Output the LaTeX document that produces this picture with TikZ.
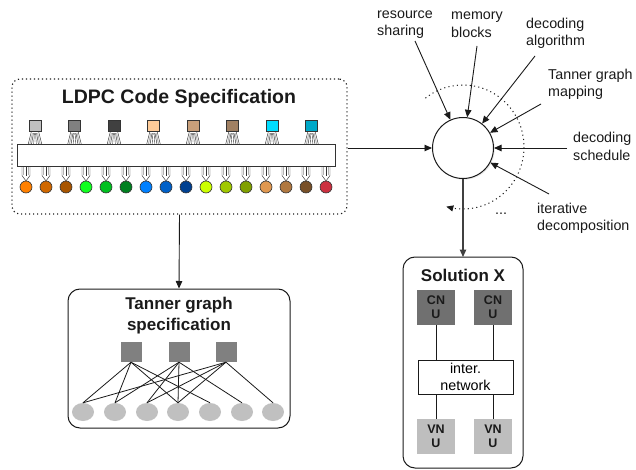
\documentclass[tikz,border=0pt]{standalone}
\usepackage{fontspec}
\setmainfont{Liberation Sans}
\usetikzlibrary{arrows.meta,shadows,calc,shapes.geometric}

\definecolor{ink}{HTML}{1A1A1A}
\definecolor{pinline}{HTML}{333333}
\definecolor{checkgray}{HTML}{808080}
\definecolor{varlight}{HTML}{C0C0C0}
\definecolor{cnugray}{HTML}{707070}
\definecolor{vnugray}{HTML}{BEBEBE}

% check-node colours (top row)
\definecolor{c1}{HTML}{C0C0C0}
\definecolor{c2}{HTML}{808080}
\definecolor{c3}{HTML}{404040}
\definecolor{c4}{HTML}{FFCC99}
\definecolor{c5}{HTML}{C89F7A}
\definecolor{c6}{HTML}{A08062}
\definecolor{c7}{HTML}{00DCFF}
\definecolor{c8}{HTML}{00A8C8}

% variable-node colours (bottom row)
\definecolor{v1}{HTML}{FF8000}
\definecolor{v2}{HTML}{D06800}
\definecolor{v3}{HTML}{A85500}
\definecolor{v4}{HTML}{10FF20}
\definecolor{v5}{HTML}{00C020}
\definecolor{v6}{HTML}{008020}
\definecolor{v7}{HTML}{0080FF}
\definecolor{v8}{HTML}{0060C8}
\definecolor{v9}{HTML}{004090}
\definecolor{v10}{HTML}{CCFF00}
\definecolor{v11}{HTML}{A0C800}
\definecolor{v12}{HTML}{80A000}
\definecolor{v13}{HTML}{E09850}
\definecolor{v14}{HTML}{B07840}
\definecolor{v15}{HTML}{785028}
\definecolor{v16}{HTML}{CC3040}

\tikzset{
  arr/.style={draw=ink, line width=0.9pt, -{Triangle[length=7.5pt,width=6.5pt]}},
  lbl/.style={font=\fontsize{14.3}{17.5}\selectfont, align=left, anchor=west, inner sep=0pt, text=ink},
  boxtitle/.style={font=\fontsize{17}{21}\selectfont\bfseries, align=center, inner sep=0pt, text=ink},
  unitlbl/.style={font=\fontsize{12.5}{14}\selectfont\bfseries, align=center, inner sep=0pt, text=ink},
  checksq/.style={draw=pinline, line width=0.6pt, minimum width=12pt, minimum height=11pt, inner sep=0pt},
  varnode/.style={circle, draw=pinline, line width=0.6pt, minimum size=12pt, inner sep=0pt},
  toppin/.pic={
    \filldraw[fill=white, draw=pinline, line width=0.45pt]
      (-3.5,0) -- (3.5,0) -- (7,14) -- (3.6,14) -- (1.6,2.5) -- (-1.6,2.5) -- (-3.6,14) -- (-7,14) -- cycle;
    \draw[gray!60, line width=0.9pt] (-2.6,2) -- (-5.3,14) (2.6,2) -- (5.3,14);
    \draw[pinline, line width=0.4pt] (-0.6,2.5) -- (-1.4,14) (0.6,2.5) -- (1.4,14);
  },
  botpin/.pic={
    \filldraw[fill=white, draw=pinline, line width=0.45pt]
      (-4,0) -- (-4,8.5) -- (0,14) -- (4,8.5) -- (4,0);
    \draw[gray!60, line width=0.9pt] (-2.3,0) -- (-2.3,8.5) (2.3,0) -- (2.3,8.5);
    \draw[pinline, line width=0.4pt] (0,0) -- (0,9);
  }
}

\begin{document}
\begin{tikzpicture}[x=1pt,y=-1pt]
\useasboundingbox (0,0) rectangle (636,470);

% ---------------- LDPC code specification ----------------
\node[draw=ink, line width=1.1pt, dash pattern=on 1.2pt off 2.8pt, rounded corners=8pt,
      minimum width=335pt, minimum height=135pt] (ldpc) at (179.5,146.5) {};
\node[font=\fontsize{19.5}{23}\selectfont\bfseries, text=ink, inner sep=0pt] (ldpctitle) at (179,98) {LDPC Code Specification};

% pins first, so the bar and the nodes sit on top of them
\foreach \i in {0,...,7} {
  \pic at ({35+39.5*\i},131) {toppin};
}
\foreach \i in {0,...,15} {
  \pic at ({26+20*\i},167) {botpin};
}

\node[draw=pinline, fill=white, line width=1pt, minimum width=318pt, minimum height=22pt, inner sep=0pt] (bar) at (176,156) {};

\foreach \i in {1,...,8} {
  \node[checksq, fill=c\i] (cn\i) at ({35+39.5*(\i-1)},125.5) {};
}
\foreach \i in {1,...,16} {
  \node[varnode, fill=v\i] (vn\i) at ({26+20*(\i-1)},187) {};
}

% ---------------- design-space hub ----------------
\node[circle, draw=ink, line width=1pt, fill=white, minimum size=61pt, inner sep=0pt,
      drop shadow={opacity=0.18, shadow xshift=1.2pt, shadow yshift=-1.2pt}] (hub) at (463,148) {};

\draw[arr] (ldpc.east |- hub.west) -- (hub.west);

% design choices feeding the hub
\node[lbl] (lres)  at (377,24.5)  {resource\\sharing};
\node[lbl] (lmem)  at (451,24.5)  {memory\\blocks};
\node[lbl] (lalg)  at (526,33.5)  {decoding\\algorithm};
\node[lbl] (lmap)  at (548,84.5)  {Tanner graph\\mapping};
\node[lbl] (lsch)  at (573,146.5) {decoding\\schedule};
\node[lbl] (lite)  at (537,218.5) {iterative\\decomposition};
\node[lbl] (ldots) at (495,214)   {...};

\coordinate (sres) at (415,41);
\coordinate (smem) at (477,46);
\coordinate (salg) at (535,56);
\coordinate (smap) at (541,104);
\coordinate (ssch) at (567,148);
\coordinate (site) at (549,194);

\draw[arr] (sres) -- (hub);
\draw[arr] (smem) -- (hub);
\draw[arr] (salg) -- (hub);
\draw[arr] (smap) -- (hub);
\draw[arr] (ssch) -- (hub);
\draw[arr] (site) -- (hub);

% dotted sweep around the hub
\draw[draw=ink, line width=1pt, dash pattern=on 1.1pt off 3.2pt, -{Triangle[length=7pt,width=6pt]}]
  plot[domain=0:1, samples=90] ({463+61*cos(128-234*\x)}, {147-62*sin(128-234*\x)});

% ---------------- Tanner graph specification ----------------
\node[draw=ink, line width=1pt, rounded corners=12pt, minimum width=222pt, minimum height=139pt] (tanner) at (179,358.5) {};
\node[boxtitle] (tannertitle) at (179,315.5) {Tanner graph\\specification};

\draw[arr] (ldpc.south) -- (tanner.north);

\foreach \i/\x in {1/131, 2/179, 3/226} {
  \node[fill=checkgray, minimum width=21pt, minimum height=20pt, inner sep=0pt] (tc\i) at (\x,352) {};
}
\foreach \i/\x in {1/83, 2/115, 3/147, 4/178, 5/210, 6/242, 7/273} {
  \node[ellipse, fill=varlight, minimum width=22pt, minimum height=18pt, inner sep=0pt] (tv\i) at (\x,412) {};
}
\foreach \c/\v in {1/1, 1/2, 1/4, 1/5, 2/2, 2/3, 2/4, 2/6, 3/1, 3/3, 3/4, 3/7} {
  \draw[ink, line width=0.8pt] (tc\c.south) -- (tv\v.north);
}

% ---------------- Solution X ----------------
\draw[draw=black!75, line width=1.2pt, -{Triangle[length=7.5pt,width=6.5pt]}] (hub.south) -- (463,257);
\node[draw=ink, line width=1pt, rounded corners=12pt, minimum width=120pt, minimum height=211pt] (sol) at (463,362.5) {};

\node[boxtitle] (soltitle) at (463,275) {Solution X};

\node[fill=cnugray, minimum width=38pt, minimum height=35pt, inner sep=0pt] (cnu1) at (436,307.5) {};
\node[fill=cnugray, minimum width=38pt, minimum height=35pt, inner sep=0pt] (cnu2) at (493,307.5) {};
\node[unitlbl] at (cnu1) {CN\\U};
\node[unitlbl] at (cnu2) {CN\\U};

\node[draw=ink, fill=white, line width=0.9pt, minimum width=95pt, minimum height=34pt, inner sep=0pt,
      font=\fontsize{14.3}{17.5}\selectfont, align=center] (net) at (465.5,377) {inter.\\network};

\node[fill=vnugray, minimum width=38pt, minimum height=35pt, inner sep=0pt] (vnu1) at (436,436.5) {};
\node[fill=vnugray, minimum width=38pt, minimum height=35pt, inner sep=0pt] (vnu2) at (493,436.5) {};
\node[unitlbl] at (vnu1) {VN\\U};
\node[unitlbl] at (vnu2) {VN\\U};

\draw[ink, line width=0.8pt] (cnu1.south) -- (cnu1.south |- net.north);
\draw[ink, line width=0.8pt] (cnu2.south) -- (cnu2.south |- net.north);
\draw[ink, line width=0.8pt] (vnu1.north |- net.south) -- (vnu1.north);
\draw[ink, line width=0.8pt] (vnu2.north |- net.south) -- (vnu2.north);

\end{tikzpicture}
\end{document}
